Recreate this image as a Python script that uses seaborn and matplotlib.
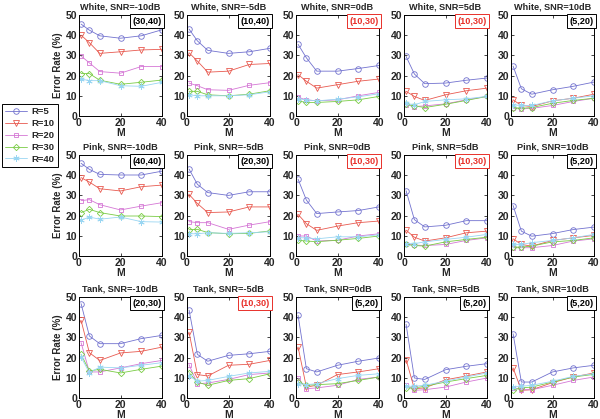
import matplotlib
matplotlib.use("Agg")
import matplotlib.pyplot as plt
import seaborn as sns
import pandas as pd
import numpy as np

sns.set_theme(style="white")
plt.rcParams['font.family'] = ['Liberation Sans', 'DejaVu Sans']
plt.rcParams['font.weight'] = 'bold'

M = [1, 5, 10, 20, 30, 40]
R_labels = ["R=5", "R=10", "R=20", "R=30", "R=40"]
noises = ["White", "Pink", "Tank"]
snrs = ["-10dB", "-5dB", "0dB", "5dB", "10dB"]

# Error rates (%) per panel: rows = R=5,10,20,30,40 ; columns = M values
white_m10 = [[45.5, 42.5, 39.7, 38.5, 39.7, 42.7],
             [40.0, 36.3, 31.0, 31.8, 32.7, 33.0],
             [29.7, 26.3, 22.0, 21.2, 24.5, 24.5],
             [21.0, 21.0, 17.7, 15.7, 16.7, 17.8],
             [18.3, 17.5, 17.5, 15.0, 14.7, 16.7]]
white_m5 = [[43.0, 37.2, 32.5, 31.0, 31.8, 33.5],
            [31.3, 27.2, 21.7, 22.2, 25.5, 26.0],
            [16.3, 15.0, 13.0, 12.7, 15.2, 16.5],
            [12.2, 12.2, 10.5, 10.0, 10.8, 12.5],
            [10.5, 10.0, 10.0, 10.0, 10.5, 12.0]]
white_0 = [[35.5, 28.8, 22.2, 22.2, 23.5, 25.0],
           [20.5, 17.2, 13.8, 15.5, 17.2, 18.3],
           [9.2, 8.0, 7.5, 8.0, 10.0, 11.7],
           [7.5, 6.7, 6.7, 7.2, 8.0, 9.7],
           [8.5, 8.0, 7.5, 8.3, 9.5, 11.0]]
white_5 = [[29.5, 20.8, 16.0, 16.3, 17.7, 18.8],
           [12.2, 9.7, 7.7, 10.5, 12.5, 13.8],
           [5.5, 4.7, 5.0, 6.0, 8.0, 9.7],
           [5.8, 5.0, 4.2, 5.8, 7.7, 9.7],
           [6.3, 5.5, 7.2, 8.0, 8.5, 9.7]]
white_10 = [[24.7, 13.5, 10.8, 13.0, 14.7, 16.8],
            [8.0, 5.2, 4.7, 7.5, 8.8, 10.8],
            [3.8, 3.5, 3.8, 5.2, 7.2, 8.8],
            [4.2, 3.8, 4.2, 6.3, 7.7, 8.8],
            [5.5, 5.2, 5.2, 7.5, 8.8, 10.0]]

pink_m10 = [[45.9, 42.9, 40.4, 40.1, 40.1, 42.0],
            [38.8, 36.6, 33.3, 32.2, 34.3, 35.1],
            [27.4, 27.9, 25.4, 22.8, 24.7, 26.4],
            [21.5, 23.1, 21.5, 19.8, 19.8, 19.5],
            [17.7, 19.3, 18.2, 19.3, 17.0, 16.8]]
pink_m5 = [[43.0, 35.5, 31.4, 30.0, 31.8, 31.8],
           [30.5, 26.0, 21.5, 21.8, 24.3, 24.3],
           [17.0, 16.5, 16.5, 13.2, 15.3, 17.0],
           [13.0, 13.2, 11.6, 11.0, 11.2, 12.4],
           [11.0, 11.0, 11.5, 11.2, 11.5, 12.0]]
pink_0 = [[38.0, 27.7, 21.0, 21.8, 22.5, 24.3],
          [20.6, 16.0, 12.7, 14.8, 16.5, 17.3],
          [9.9, 9.9, 7.4, 7.8, 9.9, 11.0],
          [7.8, 7.4, 7.1, 7.8, 8.7, 9.9],
          [9.0, 9.0, 8.5, 9.5, 9.5, 10.5]]
pink_5 = [[32.3, 18.0, 14.4, 15.2, 17.5, 17.5],
          [12.8, 9.3, 7.4, 9.0, 11.5, 12.3],
          [6.1, 5.4, 5.2, 5.7, 7.7, 9.0],
          [5.7, 5.2, 4.9, 7.0, 8.2, 9.3],
          [6.1, 6.1, 7.0, 8.2, 9.3, 10.7]]
pink_10 = [[25.0, 12.3, 9.8, 11.1, 13.1, 14.3],
           [8.5, 5.7, 4.9, 7.7, 9.0, 10.2],
           [4.1, 4.1, 4.1, 5.2, 7.4, 8.5],
           [4.4, 4.4, 4.9, 7.0, 7.7, 9.0],
           [5.7, 5.7, 6.6, 7.7, 9.0, 10.7]]

tank_m10 = [[46.7, 30.7, 26.9, 26.9, 29.4, 31.0],
            [38.4, 22.4, 18.6, 22.3, 23.1, 25.2],
            [27.4, 12.9, 12.9, 14.9, 17.0, 18.6],
            [21.6, 13.4, 14.2, 12.4, 14.2, 15.8],
            [20.3, 12.5, 15.3, 14.9, 16.2, 17.5]]
tank_m5 = [[43.5, 21.6, 18.2, 21.1, 21.9, 23.1],
           [32.5, 11.6, 10.9, 16.2, 16.7, 18.6],
           [16.5, 7.1, 7.4, 9.2, 11.6, 12.4],
           [12.5, 7.9, 6.3, 8.7, 9.6, 12.0],
           [11.0, 8.3, 8.7, 10.7, 12.4, 13.2]]
tank_0 = [[40.9, 14.5, 12.9, 16.2, 18.2, 19.8],
          [25.2, 5.4, 6.3, 11.6, 12.9, 14.5],
          [9.9, 4.6, 5.0, 6.3, 9.2, 10.4],
          [7.9, 6.3, 6.6, 7.1, 8.7, 10.4],
          [7.1, 6.6, 7.1, 9.6, 11.2, 12.0]]
tank_5 = [[36.5, 9.9, 9.2, 14.0, 15.7, 17.0],
          [19.0, 4.6, 5.0, 9.0, 10.9, 12.9],
          [6.3, 3.8, 4.1, 5.4, 7.9, 9.9],
          [5.0, 5.0, 5.8, 7.9, 9.6, 11.2],
          [5.8, 5.8, 6.3, 8.3, 10.4, 12.4]]
tank_10 = [[31.8, 7.9, 7.9, 12.9, 14.9, 16.2],
           [14.9, 3.8, 4.1, 7.6, 10.4, 12.4],
           [5.0, 4.1, 4.1, 6.3, 8.7, 10.4],
           [4.1, 5.0, 5.4, 7.9, 10.4, 11.7],
           [5.4, 5.8, 6.3, 8.3, 10.7, 12.0]]

panel_data = [[white_m10, white_m5, white_0, white_5, white_10],
              [pink_m10, pink_m5, pink_0, pink_5, pink_10],
              [tank_m10, tank_m5, tank_0, tank_5, tank_10]]

best_labels = [["(30,40)", "(10,40)", "(10,30)", "(10,30)", "(5,20)"],
               ["(40,40)", "(20,30)", "(10,30)", "(10,30)", "(5,20)"],
               ["(20,30)", "(10,30)", "(5,20)", "(5,20)", "(5,20)"]]
best_red = [[False, False, True, True, False],
            [False, False, True, True, False],
            [False, True, False, False, False]]

colors = ["#7272cf", "#e85a50", "#d577d5", "#7acc45", "#9ad6f2"]
markers = ["o", "v", "s", "D", (6, 2, 0)]
msizes = [4.0, 4.0, 3.5, 3.2, 4.5]

W, H = 600, 419
fig = plt.figure(figsize=(6.0, 4.19), dpi=100)

col_left = [79, 187, 296, 404, 511]
row_top = [15, 155, 297]
ax_w, ax_h = 83, 101

handles = None
for i in range(3):
    for j in range(5):
        l = col_left[j] / W
        b = (H - row_top[i] - ax_h) / H
        ax = fig.add_axes([l, b, ax_w / W, ax_h / H])
        data = panel_data[i][j]
        for k in range(5):
            df = pd.DataFrame({"M": M, "err": data[k]})
            sns.lineplot(data=df, x="M", y="err", ax=ax, color=colors[k],
                         marker=markers[k], markersize=msizes[k],
                         markerfacecolor="none", markeredgecolor=colors[k],
                         markeredgewidth=0.6, linewidth=0.6, label=R_labels[k],
                         legend=False)
        ax.set_xlim(0, 40)
        ax.set_ylim(0, 50)
        ax.set_xticks([0, 20, 40])
        ax.set_yticks([0, 10, 20, 30, 40, 50])
        ax.tick_params(direction="in", length=2, width=0.6, labelsize=7.5,
                       top=True, right=True, bottom=True, left=True, pad=1.5)
        for lab in ax.get_xticklabels() + ax.get_yticklabels():
            lab.set_fontweight("bold")
        for sp in ax.spines.values():
            sp.set_color("black")
            sp.set_linewidth(0.7)
        ax.set_xlabel("M", fontsize=7.5, fontweight="bold", labelpad=0)
        if j == 0:
            ax.set_ylabel("Error Rate (%)", fontsize=7, fontweight="bold", labelpad=2)
        else:
            ax.set_ylabel("")
        ax.set_title(f"{noises[i]}, SNR={snrs[j]}", fontsize=6.6,
                     fontweight="bold", pad=4)
        c = "#e8302a" if best_red[i][j] else "black"
        ax.text(0.995, 0.985, best_labels[i][j], transform=ax.transAxes,
                ha="right", va="top", fontsize=6.6, fontweight="bold", color=c,
                bbox=dict(boxstyle="square,pad=0.3", facecolor="white",
                          edgecolor=c, linewidth=0.7))
        if handles is None:
            handles = ax.get_lines()[:5]

leg = fig.legend(handles, R_labels, loc="upper left",
                 bbox_to_anchor=(1.5 / W, 1 - 104 / H),
                 frameon=True, fancybox=False, framealpha=1, edgecolor="black",
                 fontsize=6.8, handlelength=2.4, handletextpad=0.4,
                 borderpad=0.35, labelspacing=0.3, borderaxespad=0)
leg.get_frame().set_linewidth(0.7)
for t in leg.get_texts():
    t.set_fontweight("bold")

fig.savefig("out.png", dpi=100)
